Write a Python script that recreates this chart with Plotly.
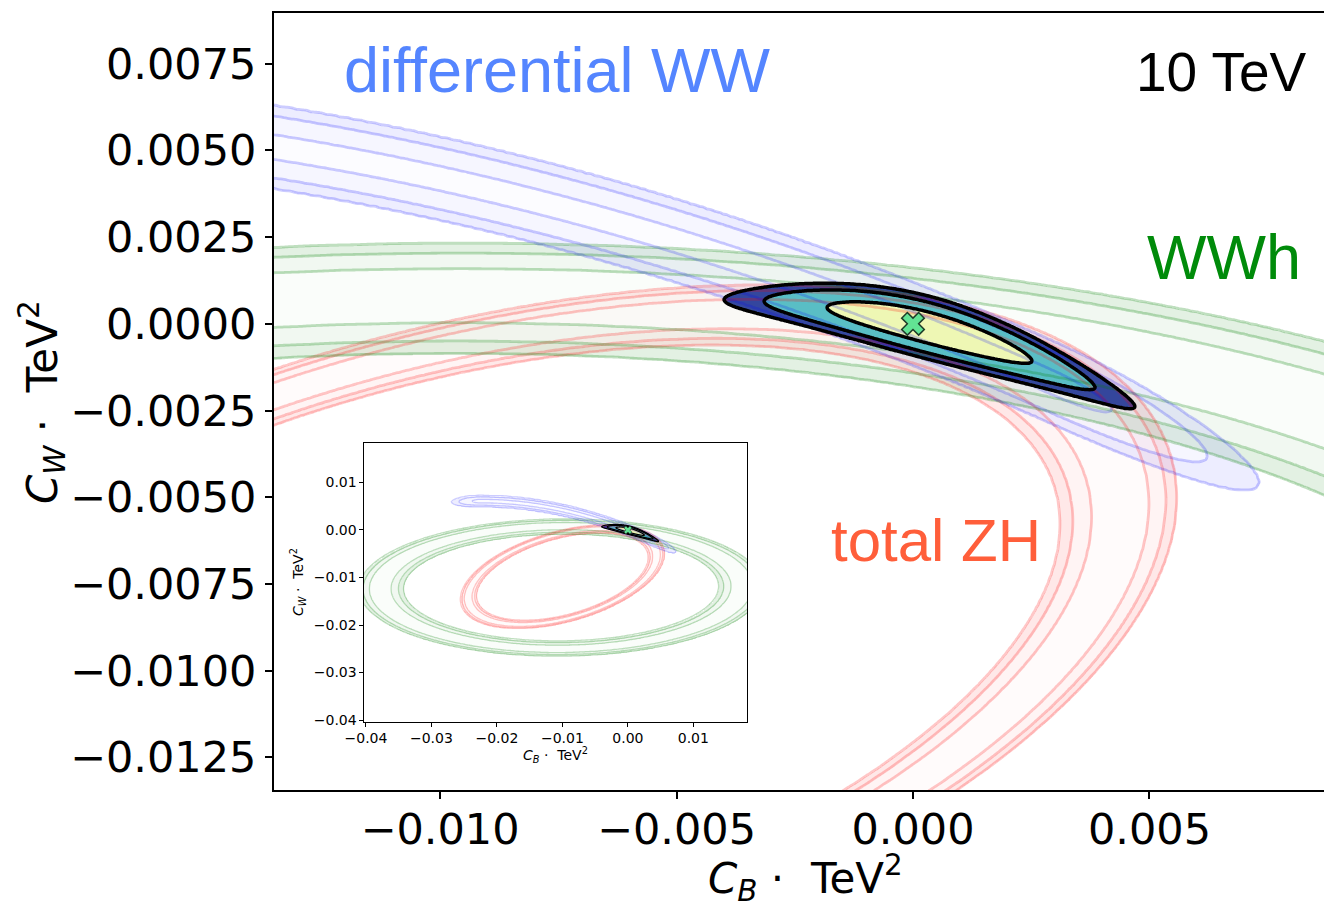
import numpy as np
import plotly.graph_objects as go

# ------------------------------------------------------------------ data
# axis ranges / ticks (TeV^-2)
MAIN_X_RANGE = [-0.01351, 0.00869]
MAIN_Y_RANGE = [-0.01344, 0.00896]
MAIN_X_TICKS = [-0.010, -0.005, 0.000, 0.005]
MAIN_X_TICKTEXT = ["\u22120.010", "\u22120.005", "0.000", "0.005"]
MAIN_Y_TICKS = [0.0075, 0.0050, 0.0025, 0.0000, -0.0025, -0.0050, -0.0075, -0.0100, -0.0125]
MAIN_Y_TICKTEXT = ["0.0075", "0.0050", "0.0025", "0.0000", "\u22120.0025", "\u22120.0050",
                   "\u22120.0075", "\u22120.0100", "\u22120.0125"]
INSET_X_RANGE = [-0.0403, 0.0182]
INSET_Y_RANGE = [-0.0404, 0.0183]
INSET_X_TICKS = [-0.04, -0.03, -0.02, -0.01, 0.00, 0.01]
INSET_X_TICKTEXT = ["\u22120.04", "\u22120.03", "\u22120.02", "\u22120.01", "0.00", "0.01"]
INSET_Y_TICKS = [0.01, 0.00, -0.01, -0.02, -0.03, -0.04]
INSET_Y_TICKTEXT = ["0.01", "0.00", "\u22120.01", "\u22120.02", "\u22120.03", "\u22120.04"]

# constraint shapes, lengths in units of 1e-3 TeV^-2
UNIT = 1e-3
CHI2_LEVELS = [2.30, 5.99, 9.21]          # 68 / 95 / 99 % CL, 2 dof

ZH_RING = {"cx": -10.0, "cy": -9.8, "a": 15.40, "b": 8.48, "tilt_deg": 25.2, "rel_width": 0.056}
WWH_RING = {"cx": -10.2, "cy": -12.1, "a": 27.67, "b": 12.93, "tilt_deg": 0.75, "rel_width": 0.080}
WW_BAND = {"centre_poly": [0.0, -0.538, -0.0119], "x_left": -22.5, "x_right": 2.9, "taper": 3.7}
WW_HALF_WIDTHS = [0.35, 0.90, 1.19]
COMBINED = {"x0": 0.35, "y0": -0.1195, "slope": -0.355, "curv": -0.0385,
            "sig_u": 1.43, "sig_v": 0.30, "pinch": 6.0}
BEST_FIT_X = [0.0]
BEST_FIT_Y = [0.0]

LABEL_TEXTS = ["differential WW", "10 TeV", "WWh", "total ZH"]

# ------------------------------------------------------------------ helpers
def ring_t(X, Y, r):
    th = np.deg2rad(r["tilt_deg"])
    dx, dy = X - r["cx"], Y - r["cy"]
    xp = dx * np.cos(th) + dy * np.sin(th)
    yp = -dx * np.sin(th) + dy * np.cos(th)
    q = (xp / r["a"]) ** 2 + (yp / r["b"]) ** 2
    return np.abs(q - 1.0) / r["rel_width"]


def band_t(X, Y, p):
    c0, c1, c2 = p["centre_poly"]
    v = Y - (c0 + c1 * X + c2 * X ** 2)
    ext = np.maximum(0.0, np.maximum(X - p["x_right"], p["x_left"] - X)) / p["taper"]
    return np.sqrt(v ** 2 + ext ** 2)


def combo_t(X, Y, p):
    u = X - p["x0"]
    v = Y - (p["y0"] + p["slope"] * u + p["curv"] * u ** 2)
    g = 1.0 / (1.0 + (u / p["pinch"]) ** 2)
    return np.sqrt((u / p["sig_u"]) ** 2 + (v / (p["sig_v"] * g)) ** 2)


def level_field(t, levels):
    l1, l2, l3 = levels
    return np.interp(t, [0.0, l1, l2, l3, l3 + 1000.0], [4.0, 3.0, 2.0, 1.0, -999.0]).astype(np.float32)


def grid(x0, x1, y0, y1, nx, ny):
    xs = np.linspace(x0, x1, nx)
    ys = np.linspace(y0, y1, ny)
    X, Y = np.meshgrid(xs, ys)
    return xs, ys, X, Y


def step_scale(c_out, c_mid, c_in):
    T = "rgba(255,255,255,0)"
    return [[0, T], [0.25, T], [0.25, c_out], [0.5, c_out], [0.5, c_mid],
            [0.75, c_mid], [0.75, c_in], [1, c_in]]


def rgba(rgb, a):
    return "rgba(%d,%d,%d,%.3f)" % (rgb[0], rgb[1], rgb[2], a)


SQ = [float(np.sqrt(c)) for c in CHI2_LEVELS]

fig = go.Figure()


def add_fill(xs, ys, z, scale, xa, ya):
    fig.add_trace(go.Heatmap(x=xs * UNIT, y=ys * UNIT, z=z, zmin=0, zmax=4, zauto=False,
                             zsmooth="best", colorscale=scale, showscale=False,
                             hoverinfo="skip", xaxis=xa, yaxis=ya))


def add_lines(xs, ys, z, color, width, xa, ya):
    fig.add_trace(go.Contour(x=xs * UNIT, y=ys * UNIT, z=z, autocontour=False,
                             contours=dict(start=1, end=3, size=1, coloring="none"),
                             line=dict(color=color, width=width, smoothing=0.6),
                             showscale=False, hoverinfo="skip", xaxis=xa, yaxis=ya))


RED = (255, 0, 0)
GREEN = (0, 128, 0)
BLUE = (0, 0, 255)
families = [
    (lambda X, Y: ring_t(X, Y, ZH_RING), SQ, RED, [0.09, 0.045, 0.015], 0.22),
    (lambda X, Y: ring_t(X, Y, WWH_RING), SQ, GREEN, [0.11, 0.055, 0.02], 0.25),
    (lambda X, Y: band_t(X, Y, WW_BAND), WW_HALF_WIDTHS, BLUE, [0.07, 0.035, 0.012], 0.2),
]
COMB_COLORS = ["rgba(36,56,150,0.92)", "rgba(72,184,192,0.9)", "rgba(237,247,176,0.95)"]

panels = [
    # xaxis, yaxis, grid, line width, combo line width, marker size
    ("x", "y", grid(-14.2, 9.3, -14.0, 9.5, 340, 320), 2.8, 3.5, 20),
    ("x2", "y2", grid(-41.5, 19.5, -41.5, 19.5, 230, 230), 1.3, 1.2, 7),
]
comb_grid = grid(-5.5, 6.0, -3.8, 2.2, 300, 170)

for xa, ya, (xs, ys, X, Y), lw, clw, msz in panels:
    zs = [level_field(f(X, Y), lev) for f, lev, _, _, _ in families]
    for z, (f, lev, col, al, la) in zip(zs, families):
        add_fill(xs, ys, z, step_scale(rgba(col, al[0]), rgba(col, al[1]), rgba(col, al[2])), xa, ya)
    cxs, cys, CX, CY = comb_grid
    zc = level_field(combo_t(CX, CY, COMBINED), SQ)
    add_fill(cxs, cys, zc, step_scale(*COMB_COLORS), xa, ya)
    for z, (f, lev, col, al, la) in zip(zs, families):
        add_lines(xs, ys, z, rgba(col, la), lw, xa, ya)
    add_lines(cxs, cys, zc, "black", clw, xa, ya)
    fig.add_trace(go.Scatter(x=BEST_FIT_X, y=BEST_FIT_Y, mode="markers",
                             marker=dict(symbol="x", size=msz, color="#62e394",
                                         line=dict(color="#1d3b28", width=1.5 if msz > 10 else 0.6)),
                             hoverinfo="skip", xaxis=xa, yaxis=ya))

# ------------------------------------------------------------------ layout
TICKFONT = dict(family="DejaVu Sans", size=43, color="black")
SMALLFONT = dict(family="DejaVu Sans", size=14, color="black")
common = dict(showgrid=False, zeroline=False, showline=True, linecolor="black",
              ticks="outside", tickcolor="black")

fig.update_layout(
    width=1324, height=903,
    margin=dict(l=274, r=0, t=13, b=113),
    paper_bgcolor="white", plot_bgcolor="white", showlegend=False,
    xaxis=dict(range=MAIN_X_RANGE, domain=[0, 1], tickvals=MAIN_X_TICKS, ticktext=MAIN_X_TICKTEXT,
               ticklen=7, tickwidth=1.5, linewidth=2, mirror=True, tickfont=TICKFONT,
               ticklabelstandoff=-7, **common),
    yaxis=dict(range=MAIN_Y_RANGE, domain=[0, 1], tickvals=MAIN_Y_TICKS, ticktext=MAIN_Y_TICKTEXT,
               ticklen=7, tickwidth=1.5, linewidth=2, tickfont=TICKFONT, **common),
    xaxis2=dict(range=INSET_X_RANGE, domain=[0.0857, 0.4505], anchor="y2",
                tickvals=INSET_X_TICKS, ticktext=INSET_X_TICKTEXT, ticklen=3.5, tickwidth=1,
                linewidth=1, mirror=True, tickfont=SMALLFONT, **common),
    yaxis2=dict(range=INSET_Y_RANGE, domain=[0.0875, 0.4466], anchor="x2",
                tickvals=INSET_Y_TICKS, ticktext=INSET_Y_TICKTEXT, ticklen=3.5, tickwidth=1,
                linewidth=1, mirror=True, tickfont=SMALLFONT, **common),
)

LABEL_FONT = "Liberation Sans, Arial, sans-serif"
label_style = [
    dict(x=-0.01207, y=0.00732, xanchor="left", color="rgb(84,133,255)", size=63),
    dict(x=0.00838, y=0.00727, xanchor="right", color="black", size=55),
    dict(x=0.00490, y=0.00193, xanchor="left", color="rgb(0,139,10)", size=63),
    dict(x=-0.00178, y=-0.00626, xanchor="left", color="rgb(255,94,58)", size=60),
]
for txt, st in zip(LABEL_TEXTS, label_style):
    fig.add_annotation(x=st["x"], y=st["y"], xref="x", yref="y", text=txt, showarrow=False,
                       xanchor=st["xanchor"], yanchor="middle",
                       font=dict(family=LABEL_FONT, size=st["size"], color=st["color"]))

XT = "<i>C</i><sub><i>B</i></sub> \u00b7  TeV<sup>2</sup>"
YT = "<i>C</i><sub><i>W</i></sub> \u00b7  TeV<sup>2</sup>"
fig.add_annotation(x=(805 - 274) / 1050, y=(790 - 878) / 777, xref="paper", yref="paper", text=XT,
                   showarrow=False, xanchor="center", yanchor="middle",
                   font=dict(family="DejaVu Sans", size=42, color="black"))
fig.add_annotation(x=(42 - 274) / 1050, y=(790 - 402) / 777, xref="paper", yref="paper", text=YT,
                   showarrow=False, xanchor="center", yanchor="middle", textangle=-90,
                   font=dict(family="DejaVu Sans", size=42, color="black"))
fig.add_annotation(x=(555 - 274) / 1050, y=(790 - 755) / 777, xref="paper", yref="paper", text=XT,
                   showarrow=False, xanchor="center", yanchor="middle",
                   font=dict(family="DejaVu Sans", size=14, color="black"))
fig.add_annotation(x=(298 - 274) / 1050, y=(790 - 582) / 777, xref="paper", yref="paper", text=YT,
                   showarrow=False, xanchor="center", yanchor="middle", textangle=-90,
                   font=dict(family="DejaVu Sans", size=14, color="black"))

fig.write_html("out.html")
